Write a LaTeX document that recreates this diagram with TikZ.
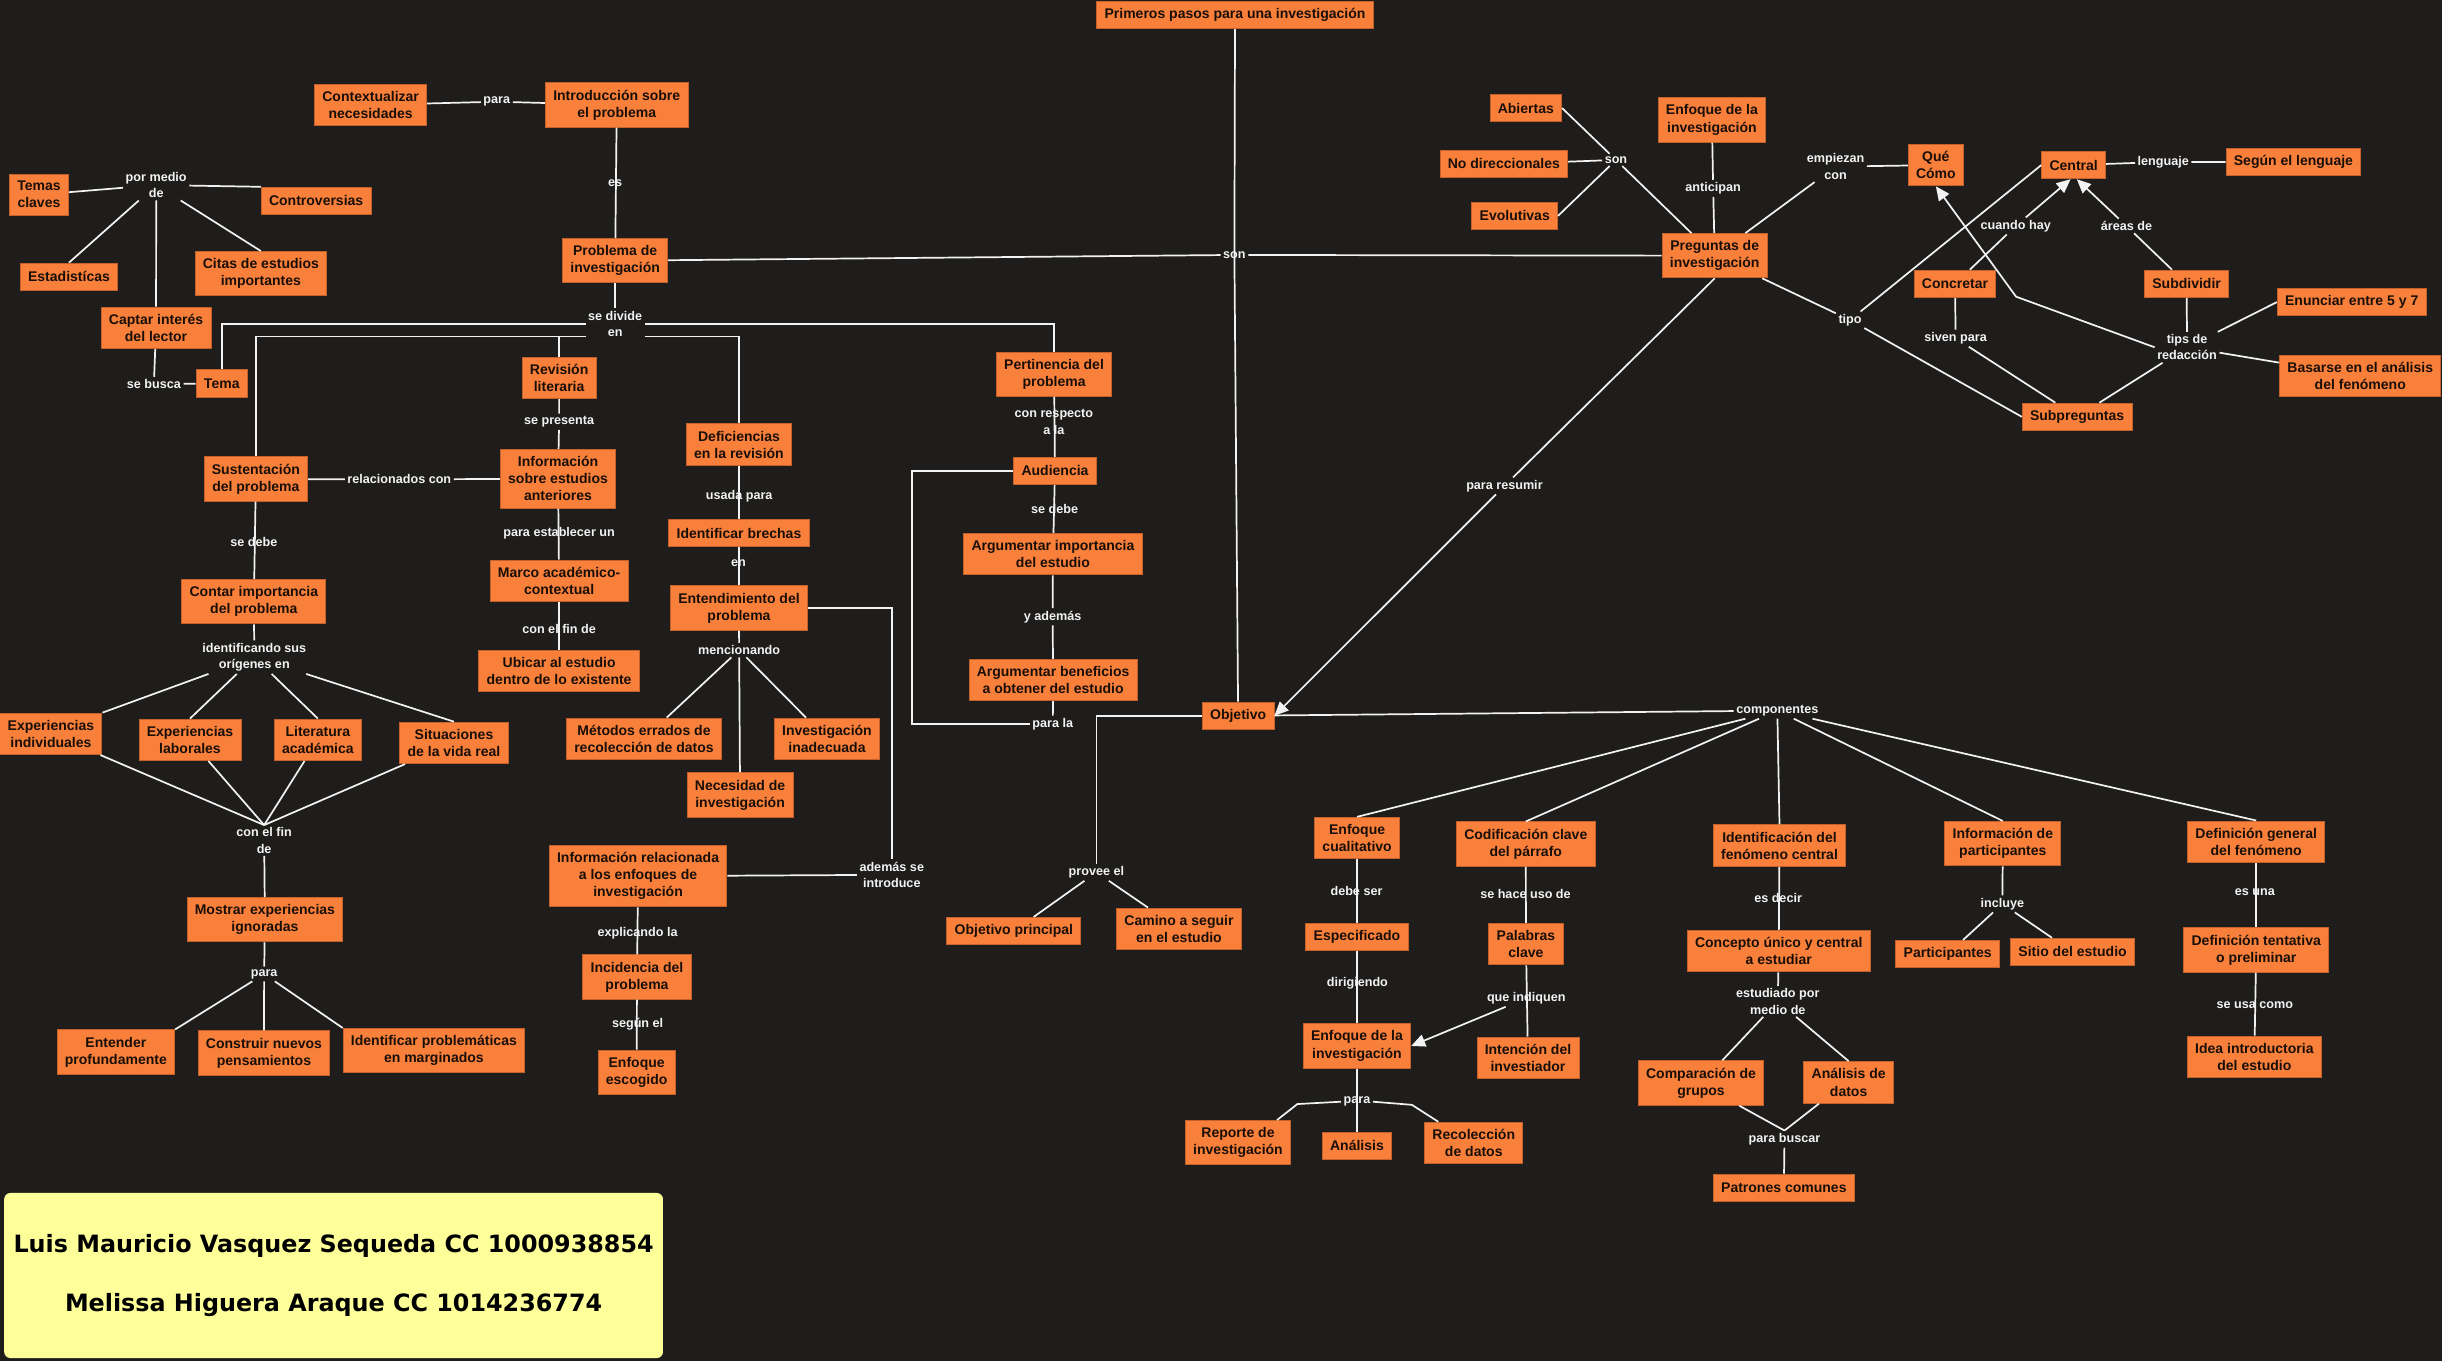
\documentclass[tikz,border=0pt]{standalone}
\usepackage{fontspec}
\setmainfont{Liberation Sans}
\newfontfamily\authfont{DejaVu Sans}
\usetikzlibrary{arrows.meta,calc}
\definecolor{bgdark}{HTML}{1E1D1B}
\definecolor{cporange}{HTML}{F9803A}
\definecolor{cpedge}{HTML}{C4612A}
\definecolor{cptext}{HTML}{1A0F08}
\definecolor{lnwhite}{HTML}{F2F2F2}
\definecolor{authyel}{HTML}{FFFF99}
\tikzset{
  cpt/.style={draw=cpedge,fill=cporange,line width=0.6pt,text=cptext,align=center,
    font=\bfseries\fontsize{9}{11}\selectfont,inner xsep=5pt,inner ysep=4.5pt,minimum height=17.5pt},
  lbl/.style={text=lnwhite,align=center,font=\bfseries\fontsize{8.1}{10.5}\selectfont,inner sep=1.5pt},
  lnk/.style={draw=lnwhite,line width=1.1pt},
  arr/.style={lnk,-{Triangle[length=9pt,width=8pt]}},
  authbox/.style={fill=authyel,rounded corners=4pt,minimum width=423pt,minimum height=106pt,
    align=center,font=\authfont\bfseries\fontsize{15.3}{37.5}\selectfont}
}

\begin{document}
\begin{tikzpicture}[x=1pt,y=-1pt]
  \fill[bgdark] (0,0) rectangle (1568,874);
  \useasboundingbox (0,0) rectangle (1568,874);

  \node[cpt] (tit) at (793,9.6) {Primeros pasos para una investigación};
  \node[lbl] (son) at (792.6,163.7) {son};
  \node[cpt] (prob) at (395,167.4) {Problema de\\investigación};
  \node[cpt] (preg) at (1101,164.2) {Preguntas de\\investigación};
  \node[cpt] (obj) at (795,459.6) {Objetivo};

  \node[cpt] (intro) at (396,67.4) {Introducción sobre\\el problema};
  \node[cpt] (ctx) at (238,67.4) {Contextualizar\\necesidades};
  \node[lbl] (para1) at (319,65.3) {para};
  \node[lbl] (es) at (395,117.3) {es};

  \node[lbl] (medio) at (100.3,118.8) {por medio\\de};
  \node[cpt] (temas) at (25,125) {Temas\\claves};
  \node[cpt] (contro) at (203,129) {Controversias};
  \node[cpt] (estad) at (44.3,177.7) {Estadistícas};
  \node[cpt] (citas) at (167.5,175.7) {Citas de estudios\\importantes};
  \node[cpt] (captar) at (100.2,210.5) {Captar interés\\del lector};
  \node[lbl] (busca) at (98.8,246.6) {se busca};
  \node[cpt] (tema) at (142.4,246.3) {Tema};

  \node[lbl] (div) at (395,208) {se divide\\en};
  \node[cpt] (rev) at (359,242.6) {Revisión\\literaria};
  \node[lbl] (pres) at (359,270.8) {se presenta};
  \node[cpt] (infoant) at (358.3,307.4) {Información\\sobre estudios\\anteriores};
  \node[lbl] (estab) at (359,342.5) {para establecer un};
  \node[cpt] (marco) at (359,373) {Marco académico-\\contextual};
  \node[lbl] (fin1) at (359,404) {con el fin de};
  \node[cpt] (ubicar) at (359,430.7) {Ubicar al estudio\\dentro de lo existente};

  \node[cpt] (sust) at (164.3,307.6) {Sustentación\\del problema};
  \node[lbl] (relac) at (256.4,307.8) {relacionados con};
  \node[lbl] (sedebe1) at (163,348) {se debe};
  \node[cpt] (contar) at (163,386.4) {Contar importancia\\del problema};
  \node[lbl] (ident) at (163.3,422) {identificando sus\\orígenes en};
  \node[cpt] (expind) at (32.7,471.2) {Experiencias\\individuales};
  \node[cpt] (explab) at (122,475) {Experiencias\\laborales};
  \node[cpt] (lit) at (204.1,475) {Literatura\\académica};
  \node[cpt] (sit) at (291.5,477) {Situaciones\\de la vida real};
  \node[lbl] (fin2) at (169.6,539.7) {con el fin\\de};
  \node[cpt] (mostrar) at (170.1,590.5) {Mostrar experiencias\\ignoradas};
  \node[lbl] (para2) at (169.6,625.4) {para};
  \node[cpt] (ent) at (74.4,675.5) {Entender\\profundamente};
  \node[cpt] (cons) at (169.5,676.1) {Construir nuevos\\pensamientos};
  \node[cpt] (ident2) at (278.6,674.6) {Identificar problemáticas\\en marginados};

  \node[cpt] (defi) at (474.5,285.5) {Deficiencias\\en la revisión};
  \node[lbl] (usada) at (474.6,318.5) {usada para};
  \node[cpt] (brechas) at (474.5,342.3) {Identificar brechas};
  \node[lbl] (en1) at (474.1,361.3) {en};
  \node[cpt] (entend) at (474.5,390.4) {Entendimiento del\\problema};
  \node[lbl] (menc) at (474.6,417.4) {mencionando};
  \node[cpt] (metodos) at (413.5,474.4) {Métodos errados de\\recolección de datos};
  \node[cpt] (inad) at (531,474.4) {Investigación\\inadecuada};
  \node[cpt] (neces) at (475.2,510.5) {Necesidad de\\investigación};
  \node[lbl] (intro2) at (572.6,561.7) {además se\\introduce};
  \node[cpt] (infoenf) at (409.7,562.6) {Información relacionada\\a los enfoques de\\investigación};
  \node[lbl] (expl) at (409.4,599.3) {explicando la};
  \node[cpt] (incid) at (409,627.3) {Incidencia del\\problema};
  \node[lbl] (segun) at (409.4,657.5) {según el};
  \node[cpt] (escog) at (408.8,688.4) {Enfoque\\escogido};

  \node[cpt] (pert) at (676.8,240.2) {Pertinencia del\\problema};
  \node[lbl] (resp) at (676.7,271) {con respecto\\a la};
  \node[cpt] (aud) at (677.4,302.4) {Audiencia};
  \node[lbl] (debe2) at (677.2,327) {se debe};
  \node[cpt] (argimp) at (676.1,355.8) {Argumentar importancia\\del estudio};
  \node[lbl] (ademas) at (675.9,396) {y además};
  \node[cpt] (argben) at (676.2,436.6) {Argumentar beneficios\\a obtener del estudio};
  \node[lbl] (parala) at (676,464.9) {para la};

  \node[lbl] (provee) at (704,560.1) {provee el};
  \node[cpt] (objp) at (651,597.8) {Objetivo principal};
  \node[cpt] (camino) at (757,596.4) {Camino a seguir\\en el estudio};
  \node[lbl] (resumir) at (966,312) {para resumir};
  \node[lbl] (comp) at (1141.2,456.3) {componentes};

  \node[cpt] (enfcual) at (871.4,538.1) {Enfoque\\cualitativo};
  \node[lbl] (debeser) at (871,571.9) {debe ser};
  \node[cpt] (espec) at (871.3,601.6) {Especificado};
  \node[lbl] (dirig) at (871.6,631.2) {dirigiendo};
  \node[cpt] (enfinv) at (871.3,671.6) {Enfoque de la\\investigación};
  \node[lbl] (para3) at (871.3,707.4) {para};
  \node[cpt] (reporte) at (794.9,733.7) {Reporte de\\investigación};
  \node[cpt] (anal) at (871.3,735.7) {Análisis};
  \node[cpt] (recol) at (946.3,733.9) {Recolección\\de datos};

  \node[cpt] (codif) at (979.7,542) {Codificación clave\\del párrafo};
  \node[lbl] (usode) at (979.5,574) {se hace uso de};
  \node[cpt] (palabras) at (979.8,606.2) {Palabras\\clave};
  \node[lbl] (indiq) at (980,641) {que indiquen};
  \node[cpt] (intenc) at (981.1,679.2) {Intención del\\investiador};

  \node[cpt] (identf) at (1142.6,543) {Identificación del\\fenómeno central};
  \node[lbl] (esdecir) at (1141.7,576.8) {es decir};
  \node[cpt] (concepto) at (1142.1,610.7) {Concepto único y central\\a estudiar};
  \node[lbl] (estud) at (1141.5,643) {estudiado por\\medio de};
  \node[cpt] (compar) at (1092.2,695.4) {Comparación de\\grupos};
  \node[cpt] (analdat) at (1187,695) {Análisis de\\datos};
  \node[lbl] (buscar) at (1145.8,731.4) {para buscar};
  \node[cpt] (patron) at (1145.4,762.7) {Patrones comunes};

  \node[cpt] (infopart) at (1286,541.7) {Información de\\participantes};
  \node[lbl] (incluye) at (1285.7,580.4) {incluye};
  \node[cpt] (partic) at (1250.6,612.6) {Participantes};
  \node[cpt] (sitio) at (1330.8,611.2) {Sitio del estudio};

  \node[cpt] (defgen) at (1448.7,540.5) {Definición general\\del fenómeno};
  \node[lbl] (esuna) at (1447.8,573) {es una};
  \node[cpt] (deften) at (1448.7,610) {Definición tentativa\\o preliminar};
  \node[lbl] (usacomo) at (1447.8,645.3) {se usa como};
  \node[cpt] (idea) at (1447.5,678.5) {Idea introductoria\\del estudio};

  \node[cpt] (abiert) at (979.7,69.4) {Abiertas};
  \node[cpt] (nodir) at (965.6,105.3) {No direccionales};
  \node[cpt] (evol) at (972.6,138.6) {Evolutivas};
  \node[lbl] (son2) at (1037.6,102.7) {son};
  \node[cpt] (enfant) at (1099.2,77) {Enfoque de la\\investigación};
  \node[lbl] (antic) at (1100,120.9) {anticipan};
  \node[lbl] (empiez) at (1178.6,107) {empiezan\\con};
  \node[cpt] (quecomo) at (1243,106) {Qué\\Cómo};
  \node[cpt] (central) at (1331.5,106) {Central};
  \node[lbl] (leng) at (1389,104) {lenguaje};
  \node[cpt] (segunl) at (1472.6,104) {Según el lenguaje};
  \node[cpt] (concr) at (1255.3,182.2) {Concretar};
  \node[cpt] (subdiv) at (1404,182.2) {Subdividir};
  \node[lbl] (cuando) at (1294.3,145.1) {cuando hay};
  \node[lbl] (areas) at (1365.4,145.1) {áreas de};
  \node[lbl] (tipo) at (1187.9,205.5) {tipo};
  \node[lbl] (siven) at (1255.7,217.2) {siven para};
  \node[lbl] (tips) at (1404.3,223) {tips de\\redacción};
  \node[cpt] (subp) at (1333.7,267.6) {Subpreguntas};
  \node[cpt] (enun) at (1510,194) {Enunciar entre 5 y 7};
  \node[cpt] (basar) at (1515.5,241.5) {Basarse en el análisis\\del fenómeno};
  \coordinate (bend) at (1294.5,190.5);

  \node[authbox] (auth) at (214.2,819) {Luis Mauricio Vasquez Sequeda CC 1000938854\\Melissa Higuera Araque CC 1014236774};

  \draw[lnk] (tit) -- (son.center) -- (obj);
  \draw[lnk] (prob) -- (son) -- (preg);
  \draw[lnk] (ctx) -- (para1) -- (intro);
  \draw[lnk] (intro) -- (prob);
  \draw[lnk] (temas) -- (medio);
  \draw[lnk] (medio) -- (contro.north west);
  \draw[lnk] (medio) -- (estad.north);
  \draw[lnk] (medio) -- (citas.north);
  \draw[lnk] (medio) -- (captar);
  \draw[lnk] (captar) -- (busca) -- (tema);

  \draw[lnk] (prob) -- (div);
  \draw[lnk] (div.west) -| (tema.north);
  \draw[lnk] ([yshift=-8pt]div.west) -| (sust.north);
  \draw[lnk] ([yshift=-8pt]div.west) -| (rev.north);
  \draw[lnk] (div.east) -| (pert.north);
  \draw[lnk] ([yshift=-8pt]div.east) -| (defi.north);

  \draw[lnk] (rev) -- (pres) -- (infoant);
  \draw[lnk] (infoant) -- (marco);
  \draw[lnk] (marco) -- (ubicar);
  \draw[lnk] (sust) -- (relac) -- (infoant);
  \draw[lnk] (sust) -- (contar);
  \draw[lnk] (contar) -- (ident);
  \draw[lnk] (ident) -- (expind.north east);
  \draw[lnk] (ident) -- (explab.north);
  \draw[lnk] (ident) -- (lit.north);
  \draw[lnk] (ident) -- (sit.north);
  \draw[lnk] (expind) -- (fin2.north);
  \draw[lnk] (explab) -- (fin2.north);
  \draw[lnk] (lit) -- (fin2.north);
  \draw[lnk] (sit) -- (fin2.north);
  \draw[lnk] (fin2) -- (mostrar);
  \draw[lnk] (mostrar) -- (para2);
  \draw[lnk] (para2) -- (ent.north east);
  \draw[lnk] (para2) -- (cons);
  \draw[lnk] (para2) -- (ident2.north west);

  \draw[lnk] (defi) -- (brechas);
  \draw[lnk] (brechas) -- (entend);
  \draw[lnk] (entend) -- (menc);
  \draw[lnk] (menc) -- (metodos);
  \draw[lnk] (menc) -- (inad);
  \draw[lnk] (menc) -- (neces);
  \draw[lnk] (entend.east) -| (intro2.north);
  \draw[lnk] (intro2) -- (infoenf);
  \draw[lnk] (infoenf) -- (incid);
  \draw[lnk] (incid) -- (escog);

  \draw[lnk] (pert) -- (aud);
  \draw[lnk] (aud) -- (argimp);
  \draw[lnk] (argimp) -- (ademas) -- (argben);
  \draw[lnk] (argben) -- (parala);
  \draw[lnk] (aud.west) -- ++(-65,0) |- (parala.west);

  \draw[lnk] (obj.west) -| (provee.north);
  \draw[lnk] (provee) -- (objp);
  \draw[lnk] (provee) -- (camino);
  \draw[lnk] (preg.south) -- (resumir);
  \draw[arr] (resumir) -- (obj.east);
  \draw[lnk] (obj) -- (comp);
  \draw[lnk] (comp) -- (enfcual.north);
  \draw[lnk] (comp) -- (codif.north);
  \draw[lnk] (comp) -- (identf.north);
  \draw[lnk] (comp) -- (infopart.north);
  \draw[lnk] (comp) -- (defgen.north);

  \draw[lnk] (enfcual) -- (espec);
  \draw[lnk] (espec) -- (enfinv);
  \draw[lnk] (enfinv) -- (anal);
  \draw[lnk] (para3.west) -- ++(-28,1.5) -- ([xshift=-9pt]reporte.north east);
  \draw[lnk] (para3.east) -- ++(25,2) -- ([xshift=9pt]recol.north west);
  \draw[lnk] (codif) -- (palabras);
  \draw[lnk] (palabras) -- (intenc);
  \draw[arr] (indiq) -- (enfinv.east);
  \draw[lnk] (identf) -- (concepto);
  \draw[lnk] (concepto) -- (estud);
  \draw[lnk] (estud) -- (compar);
  \draw[lnk] (estud) -- (analdat.north);
  \draw[lnk] ([xshift=-16pt]compar.south east) -- (buscar.north);
  \draw[lnk] ([xshift=10pt]analdat.south west) -- (buscar.north);
  \draw[lnk] (buscar) -- (patron);
  \draw[lnk] (infopart) -- (incluye);
  \draw[lnk] (incluye) -- (partic);
  \draw[lnk] (incluye) -- (sitio);
  \draw[lnk] (defgen) -- (deften);
  \draw[lnk] (deften) -- (idea);

  \draw[lnk] (abiert.east) -- (son2);
  \draw[lnk] (nodir) -- (son2);
  \draw[lnk] (evol.east) -- (son2);
  \draw[lnk] (son2) -- (preg);
  \draw[lnk] (enfant) -- (antic) -- (preg);
  \draw[lnk] (preg) -- (empiez) -- (quecomo);
  \draw[lnk] (central) -- (leng) -- (segunl);
  \draw[lnk] (preg) -- (tipo);
  \draw[lnk] (tipo) -- (central.west);
  \draw[lnk] (tipo) -- (subp.west);
  \draw[lnk] (concr) -- (cuando);
  \draw[arr] (cuando) -- ([xshift=-2pt]central.south);
  \draw[lnk] (subdiv) -- (areas);
  \draw[arr] (areas) -- ([xshift=2pt]central.south);
  \draw[lnk] (concr) -- (siven) -- (subp);
  \draw[lnk] (subdiv) -- (tips);
  \draw[lnk] (tips) -- (enun.west);
  \draw[lnk] (tips) -- (basar);
  \draw[lnk] (tips) -- (subp);
  \draw[arr] (tips.west) -- (bend) -- (quecomo.south);
\end{tikzpicture}
\end{document}
